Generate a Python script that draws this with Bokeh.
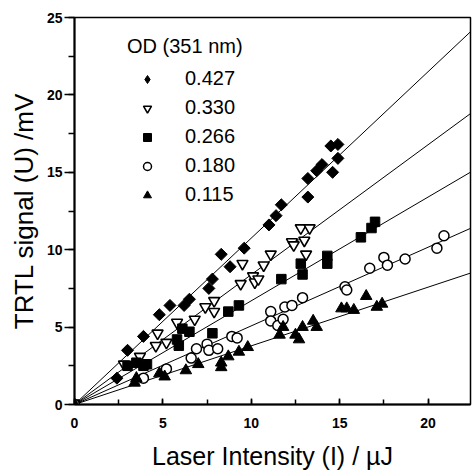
import numpy as np
from bokeh.plotting import figure
from bokeh.models import Legend, LegendItem, Range1d, SingleIntervalTicker
from bokeh.embed import file_html
from bokeh.resources import INLINE

# ---- data ----
od_labels = ["0.427", "0.330", "0.266", "0.180", "0.115"]
slopes = [1.075, 0.839, 0.670, 0.508, 0.379]

x_427 = [0, 2.4, 3.0, 3.9, 4.8, 5.4, 6.2, 6.5, 7.6, 7.8, 8.3, 8.8, 9.6, 11.0, 11.4, 11.7, 13.2, 13.2, 13.7, 14.0, 14.6, 14.5, 14.9, 14.9]
y_427 = [0, 1.7, 3.5, 4.4, 5.8, 6.4, 6.4, 6.8, 7.5, 8.1, 9.7, 8.9, 10.1, 11.6, 12.2, 12.9, 13.4, 14.6, 15.1, 15.5, 15.0, 16.7, 16.8, 15.9]

x_330 = [0, 2.8, 3.7, 4.6, 4.7, 5.2, 5.8, 6.8, 7.4, 7.9, 7.9, 9.4, 9.5, 10.1, 10.2, 10.4, 10.7, 11.1, 12.3, 12.4, 12.8, 13.0, 13.3, 13.1]
y_330 = [0, 2.6, 3.1, 3.8, 4.6, 4.0, 5.3, 5.5, 6.3, 6.7, 6.0, 7.8, 9.1, 8.3, 7.9, 8.1, 9.0, 9.7, 10.5, 10.3, 11.4, 10.6, 11.4, 9.7]

x_266 = [0, 3.0, 3.5, 3.9, 4.1, 5.8, 5.9, 6.1, 6.5, 7.8, 8.7, 9.3, 11.7, 12.8, 12.9, 14.3, 14.3, 16.2, 16.8, 17.0]
y_266 = [0, 2.5, 2.7, 2.5, 2.6, 4.2, 3.8, 4.9, 4.7, 4.6, 6.0, 6.4, 8.1, 9.1, 8.4, 9.6, 9.1, 10.8, 11.4, 11.8]

x_180 = [0, 3.9, 5.2, 6.6, 6.9, 7.5, 7.6, 8.1, 8.9, 9.2, 11.1, 11.1, 11.5, 11.8, 11.9, 12.3, 12.9, 15.3, 15.4, 16.7, 17.5, 17.7, 18.7, 20.5, 20.9]
y_180 = [0, 1.7, 2.3, 3.0, 3.6, 3.9, 3.5, 3.6, 4.4, 4.3, 6.0, 5.4, 5.1, 5.5, 6.3, 6.4, 6.9, 7.6, 7.4, 8.8, 9.5, 9.0, 9.4, 10.1, 10.9]

x_115 = [0, 3.4, 3.5, 4.8, 5.1, 6.3, 7.0, 8.3, 8.3, 8.7, 9.3, 9.8, 11.6, 11.8, 12.5, 12.7, 12.9, 13.5, 13.7, 15.1, 15.4, 15.8, 16.5, 17.1, 17.4]
y_115 = [0, 1.4, 1.7, 2.0, 1.8, 2.2, 2.6, 2.7, 2.4, 3.1, 3.4, 3.7, 4.5, 5.0, 4.5, 4.2, 5.0, 5.4, 5.0, 6.2, 6.2, 6.1, 7.0, 6.3, 6.5]

x_lo, x_hi = 0, 22.4
y_lo, y_hi = 0, 25

FONT = "Liberation Sans"

p = figure(width=472, height=474, output_backend="svg", toolbar_location=None,
           x_range=Range1d(x_lo, x_hi), y_range=Range1d(y_lo, y_hi),
           min_border_left=74, min_border_right=2, min_border_top=17, min_border_bottom=70)
p.background_fill_color = "white"
p.border_fill_color = "white"
p.grid.visible = False
p.outline_line_color = "black"
p.outline_line_width = 1.5

# fit lines through origin
xl = np.array([x_lo, x_hi])
for s in slopes:
    p.line(xl, s * xl, line_color="black", line_width=1)

series = [
    (x_427, y_427, dict(marker="square", angle=np.pi / 4, size=8.5, fill_color="black", line_color="black")),
    (x_330, y_330, dict(marker="inverted_triangle", size=11, fill_color="white", line_color="black", line_width=1.6)),
    (x_266, y_266, dict(marker="square", size=9.5, fill_color="black", line_color="black")),
    (x_180, y_180, dict(marker="circle", size=10, fill_color="white", line_color="black", line_width=1.5)),
    (x_115, y_115, dict(marker="triangle", size=11.5, fill_color="black", line_color="black")),
]
for xs, ys, kw in series:
    p.scatter(x=xs, y=ys, **kw)

# legend renderers (a single NaN point each, slightly smaller marks)
leg_kw = [
    dict(marker="diamond", size=13, fill_color="black", line_color="black"),
    dict(marker="inverted_triangle", size=9, fill_color="white", line_color="black", line_width=1.6),
    dict(marker="square", size=8, fill_color="black", line_color="black"),
    dict(marker="circle", size=8, fill_color="white", line_color="black", line_width=1.5),
    dict(marker="triangle", size=10, fill_color="black", line_color="black"),
]
items = []
for lab, kw in zip(od_labels, leg_kw):
    r = p.scatter(x=[np.nan], y=[np.nan], **kw)
    items.append(LegendItem(label=lab, renderers=[r]))

legend = Legend(items=items, location=(53, 198), title="OD (351 nm)",
                title_text_font=FONT, title_text_font_size="20px", title_text_font_style="normal",
                title_text_color="black", title_standoff=9,
                label_text_font=FONT, label_text_font_size="20px", label_text_color="black",
                glyph_width=40, glyph_height=20, label_height=20, label_standoff=18,
                spacing=6, padding=0, margin=0,
                border_line_color=None, background_fill_alpha=0)
p.add_layout(legend, "center")

# axes
for ax in (p.xaxis[0], p.yaxis[0]):
    ax.axis_line_width = 2
    ax.axis_line_color = "black"
    ax.major_tick_line_color = "black"
    ax.minor_tick_line_color = "black"
    ax.major_tick_line_width = 1.5
    ax.minor_tick_line_width = 1.5
    ax.major_label_text_font = FONT
    ax.major_label_text_font_size = "14px"
    ax.major_label_text_font_style = "bold"
    ax.major_label_text_color = "black"
    ax.axis_label_text_font = FONT
    ax.axis_label_text_font_style = "normal"
    ax.axis_label_text_color = "black"

p.xaxis.ticker = SingleIntervalTicker(interval=5, num_minor_ticks=2)
p.yaxis.ticker = SingleIntervalTicker(interval=5, num_minor_ticks=2)

p.xaxis.major_tick_in = 6
p.xaxis.major_tick_out = 0
p.xaxis.minor_tick_in = 5
p.xaxis.minor_tick_out = 0
p.xaxis.major_label_standoff = 13
p.xaxis.axis_label = "Laser Intensity (I) / \u00b5J"
p.xaxis.axis_label_text_font_size = "25px"
p.xaxis.axis_label_standoff = 11

p.yaxis.major_tick_in = 0
p.yaxis.major_tick_out = 10
p.yaxis.minor_tick_in = 0
p.yaxis.minor_tick_out = 6
p.yaxis.major_label_standoff = 2
p.yaxis.axis_label = "TRTL signal (U) /mV"
p.yaxis.axis_label_text_font_size = "26px"
p.yaxis.axis_label_standoff = 5

open("out.html", "w").write(file_html(p, INLINE))
